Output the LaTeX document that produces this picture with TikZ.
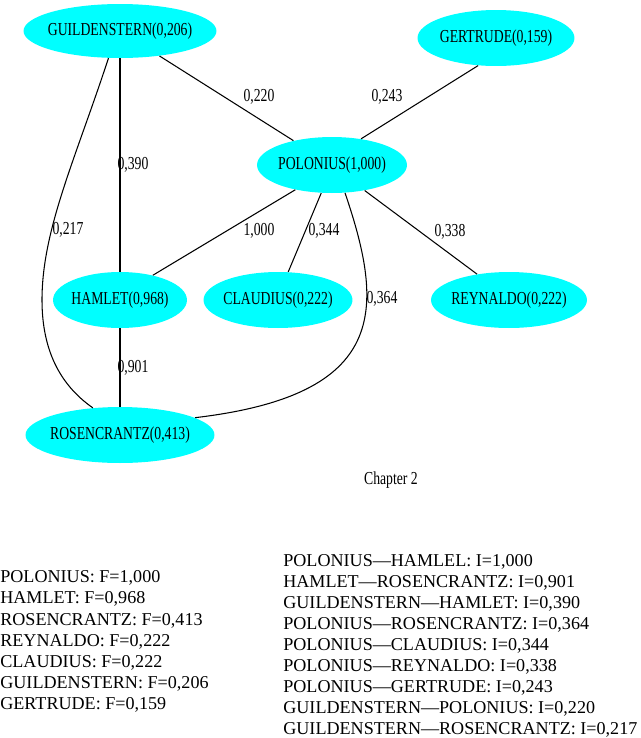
\documentclass[tikz,border=0pt]{standalone}
\usepackage{fontspec}
\setmainfont{Liberation Serif}
\newfontfamily\narrowserif[FakeStretch=0.75]{Liberation Serif}
\usetikzlibrary{shapes.geometric}
\definecolor{actorcyan}{RGB}{0,255,255}

\begin{document}
\begin{tikzpicture}[
    x=0.02cm, y=-0.02cm,
    actor/.style={ellipse, fill=actorcyan, inner xsep=-0.1cm, minimum height=1.12cm, font=\narrowserif\fontsize{10.4}{12}\selectfont},
    link/.style={line width=0.6pt},
    weight/.style={inner sep=1pt, font=\narrowserif\fontsize{10.4}{12}\selectfont},
    listline/.style={anchor=base west, inner sep=0pt, font=\fontsize{10.3}{12}\selectfont}
]
\useasboundingbox (0,0) rectangle (640,738);

% Characters
\node[actor, minimum width=3.86cm, minimum height=1.08cm] (guild) at (120,31) {GUILDENSTERN(0,206)};
\node[actor, minimum width=3.14cm] (gertrude) at (496,38) {GERTRUDE(0,159)};
\node[actor, minimum width=3.0cm] (polonius) at (332,165) {POLONIUS(1,000)};
\node[actor, minimum width=2.68cm] (hamlet) at (120,300) {HAMLET(0,968)};
\node[actor, minimum width=2.98cm] (claudius) at (278,300) {CLAUDIUS(0,222)};
\node[actor, minimum width=3.12cm] (reynaldo) at (509,300) {REYNALDO(0,222)};
\node[actor, minimum width=3.78cm] (rosen) at (120,435) {ROSENCRANTZ(0,413)};

% Links
\draw[link] (guild) -- (polonius);
\draw[link] (gertrude.237) -- (polonius.42);
\draw[link] (guild) -- (hamlet);
\draw[link] (hamlet) -- (rosen);
\draw[link] (polonius.214) -- (hamlet.37);
\draw[link] (polonius.249) -- (claudius.70);
\draw[link] (polonius.322) -- (reynaldo.141);
\draw[link] (polonius.295) .. controls (385,310) and (388,395) .. (rosen.13);
\draw[link] (guild.247) .. controls (75,160) and (42,230) .. (42,300)
    .. controls (42,350) and (60,385) .. (rosen.135);

% Weights
\node[weight] (w220) at (259,97) {0,220};
\node[weight] (w243) at (387,97) {0,243};
\node[weight] (w390) at (133,165) {0,390};
\node[weight] (w217) at (68,230) {0,217};
\node[weight] (w1000) at (259,231) {1,000};
\node[weight] (w344) at (324,231) {0,344};
\node[weight] (w338) at (450,232) {0,338};
\node[weight] (w364) at (382,299) {0,364};
\node[weight] (w901) at (133,368) {0,901};
\node[weight] (chapter) at (391,480) {Chapter 2};

% Lists
\foreach \txt [count=\i from 0] in {{POLONIUS: F=1,000}, {HAMLET: F=0,968},
    {ROSENCRANTZ: F=0,413}, {REYNALDO: F=0,222}, {CLAUDIUS: F=0,222},
    {GUILDENSTERN: F=0,206}, {GERTRUDE: F=0,159}}
  \node[listline] (f\i) at ({0},{582.7+21.2*\i}) {\txt};
\foreach \txt [count=\i from 0] in {{POLONIUS—HAMLEL: I=1,000}, {HAMLET—ROSENCRANTZ: I=0,901},
    {GUILDENSTERN—HAMLET: I=0,390}, {POLONIUS—ROSENCRANTZ: I=0,364},
    {POLONIUS—CLAUDIUS: I=0,344}, {POLONIUS—REYNALDO: I=0,338},
    {POLONIUS—GERTRUDE: I=0,243}, {GUILDENSTERN—POLONIUS: I=0,220},
    {GUILDENSTERN—ROSENCRANTZ: I=0,217}}
  \node[listline] (i\i) at ({283},{566+21*\i}) {\txt};

\end{tikzpicture}
\end{document}
